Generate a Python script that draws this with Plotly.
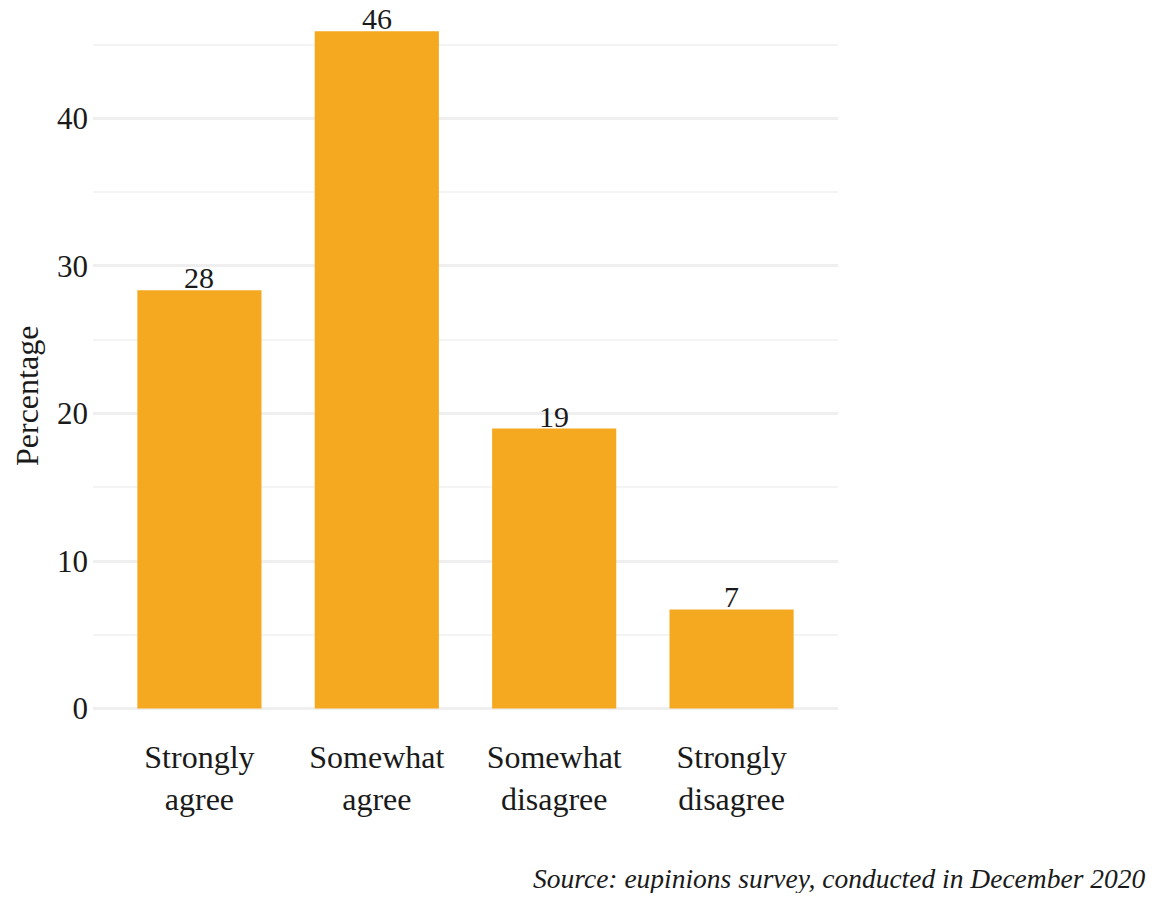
import plotly.graph_objects as go

categories = ["Strongly<br>agree", "Somewhat<br>agree", "Somewhat<br>disagree", "Strongly<br>disagree"]
values = [28.35, 45.9, 18.98, 6.72]
y_ticks = [0, 10, 20, 30, 40]
minor_ticks = [5, 15, 25, 35, 45]

FONT = "Liberation Serif"
# page has an 8px body margin, so the figure is drawn smaller and shifted
W, H = 1140, 885
L, R, T, B = 85, 310, 13, 177
PW, PH = W - L - R, H - T - B

fig = go.Figure()
fig.add_trace(go.Bar(
    x=list(range(len(categories))), y=values,
    width=0.7,
    marker=dict(color="#F5A921", line=dict(width=0)),
    hoverinfo="skip",
))

for i, v in enumerate(values):
    fig.add_annotation(
        x=i, y=v, xref="x", yref="y",
        text=f"{round(v)}", showarrow=False,
        xanchor="center", yanchor="bottom", yshift=-6,
        font=dict(family=FONT, size=30, color="#1a1a1a"),
    )

fig.update_layout(
    width=W, height=H,
    margin=dict(l=L, r=R, t=T, b=B),
    plot_bgcolor="white", paper_bgcolor="white",
    showlegend=False,
    font=dict(family=FONT, size=31, color="#1a1a1a"),
    xaxis=dict(
        range=[-0.6, 3.6],
        tickmode="array", tickvals=list(range(len(categories))), ticktext=categories,
        showgrid=False, zeroline=False, showline=False, ticks="",
        tickfont=dict(family=FONT, size=32, color="#1a1a1a"),
        ticklabelstandoff=19,
    ),
    yaxis=dict(
        range=[-0.5, 46.6],
        tickmode="array", tickvals=y_ticks,
        showgrid=True, gridcolor="#efefef", gridwidth=3,
        zeroline=False, showline=False, ticks="",
        tickfont=dict(family=FONT, size=31, color="#1a1a1a"),
        ticklabelstandoff=4,
        minor=dict(tickmode="array", tickvals=minor_ticks, showgrid=True,
                   gridcolor="#f4f4f4", gridwidth=1.5),
    ),
)

fig.add_annotation(
    text="Percentage", textangle=-90,
    xref="paper", yref="paper",
    x=-(L - 19) / PW, y=(H - B - 388) / PH,
    xanchor="center", yanchor="middle", showarrow=False,
    font=dict(family=FONT, size=32, color="#1a1a1a"),
)
fig.add_annotation(
    text="<i>Source: eupinions survey, conducted in December 2020</i>",
    xref="paper", yref="paper",
    x=(W - 1 - L) / PW, y=-(870 - (H - B)) / PH,
    xanchor="right", yanchor="middle", showarrow=False,
    font=dict(family=FONT, size=27.5, color="#1a1a1a"),
)

fig.write_html("out.html")
